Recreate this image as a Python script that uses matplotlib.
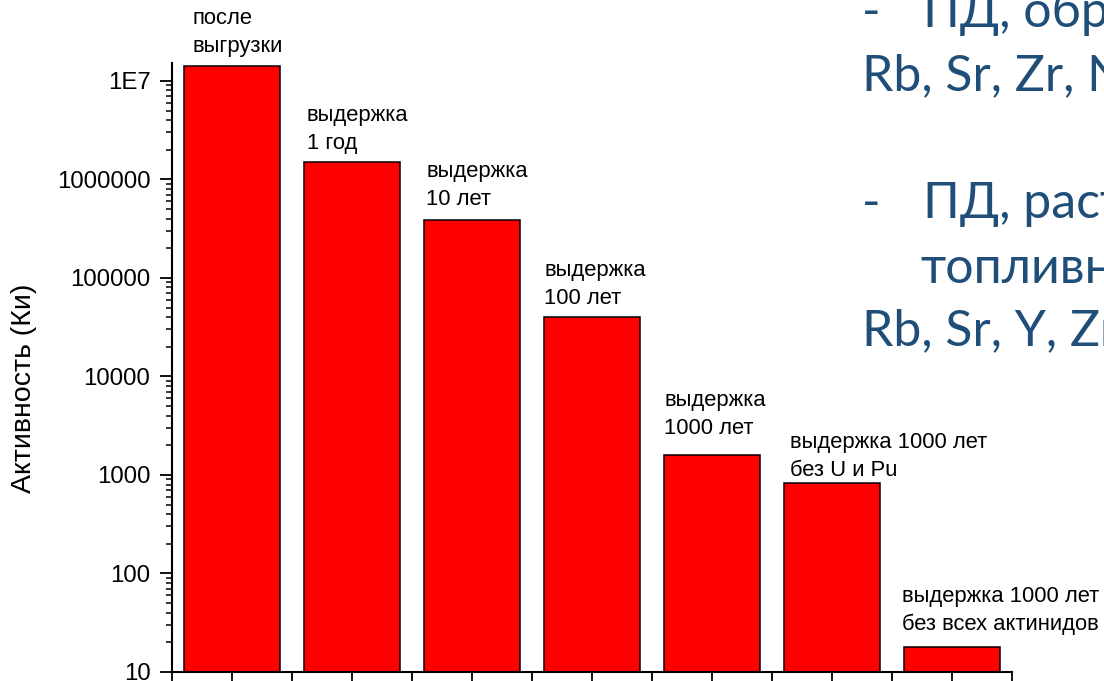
import matplotlib
matplotlib.use("Agg")
import matplotlib.pyplot as plt
from matplotlib.ticker import FixedLocator, FuncFormatter, LogLocator, NullFormatter

plt.rcParams['font.family'] = ['Liberation Sans', 'DejaVu Sans']

# Activity of spent fuel, Ci
categories = [
    "после\nвыгрузки",
    "выдержка\n1 год",
    "выдержка\n10 лет",
    "выдержка\n100 лет",
    "выдержка\n1000 лет",
    "выдержка 1000 лет\nбез U и Pu",
    "выдержка 1000 лет\nбез всех актинидов",
]
activity = [1.42e7, 1.52e6, 3.9e5, 4.0e4, 1.6e3, 830, 18]

y_ticks = [10, 100, 1000, 10000, 100000, 1000000, 10000000]
y_tick_labels = ["10", "100", "1000", "10000", "100000", "1000000", "1E7"]

# label placement tweaks (pixels from the bar's top-left corner)
label_dx = [9, 3, 2, 0, 0, 6, -2]
label_dy = [9, 8, 10, 8, 16, 2, 12]

side_lines = [
    ("-", "ПД, образующиеся"),
    ("", "Rb, Sr, Zr, Nb, Mo"),
    ("-", "ПД, растворимые в"),
    ("", "топливной"),
    ("", "Rb, Sr, Y, Zr, Nb"),
]

W, H = 1104, 681
fig = plt.figure(figsize=(W / 100, H / 100), dpi=100)
ax = fig.add_axes([172 / W, 1 - 672 / H, (1012 - 172) / W, (672 - 63) / H])

x = list(range(1, len(activity) + 1))
ax.bar(x, activity, width=0.8, color="#ff0000", edgecolor="black",
       linewidth=1.1, bottom=0, zorder=2)

ax.set_yscale("log")
ax.set_ylim(10, 1.52e7)
ax.set_xlim(0.5, len(activity) + 0.5)

ax.yaxis.set_major_locator(FixedLocator(y_ticks))
ax.yaxis.set_major_formatter(FuncFormatter(
    lambda v, p: y_tick_labels[y_ticks.index(int(round(v)))] if int(round(v)) in y_ticks else ""))
ax.yaxis.set_minor_locator(LogLocator(base=10, subs=range(2, 10)))
ax.yaxis.set_minor_formatter(NullFormatter())

ax.xaxis.set_major_locator(FixedLocator(x))
ax.xaxis.set_minor_locator(FixedLocator([i + 0.5 for i in range(0, len(activity) + 1)]))
ax.set_xticklabels([])

for side in ("top", "right"):
    ax.spines[side].set_visible(False)
for side in ("left", "bottom"):
    ax.spines[side].set_linewidth(1.5)

ax.tick_params(axis="y", which="major", direction="out", length=8.5, width=1.3,
               labelsize=17.3, pad=7)
ax.tick_params(axis="y", which="minor", direction="out", length=4, width=1.1)
ax.tick_params(axis="x", which="both", direction="out", length=10, width=1.3)

ax.set_ylabel("Активность (Ки)", fontsize=20.5)
ax.yaxis.set_label_coords((37 - 172) / 840, 1 - (388 - 63) / 609)

for xi, val, txt, dx, dy in zip(x, activity, categories, label_dx, label_dy):
    ax.annotate(txt, xy=(xi - 0.4, val), xytext=(dx, dy), textcoords="offset pixels",
                ha="left", va="bottom", fontsize=15.8, linespacing=1.42, color="black")

# slide text running off the right edge
blue = "#1f4e79"
side_font = dict(fontsize=36, color=blue, family=["Lato", "DejaVu Sans"], va="baseline")
baselines = [27, 90, 218, 283, 345]
for (dash, body), yb in zip(side_lines, baselines):
    yf = 1 - yb / H
    if dash:
        fig.text(862 / W, yf, dash, **side_font)
        fig.text(923 / W, yf, body, **side_font)
    elif body == "топливной":
        fig.text(920 / W, yf, body, **side_font)
    else:
        fig.text(862 / W, yf, body, **side_font)

fig.savefig("out.png", dpi=100)
